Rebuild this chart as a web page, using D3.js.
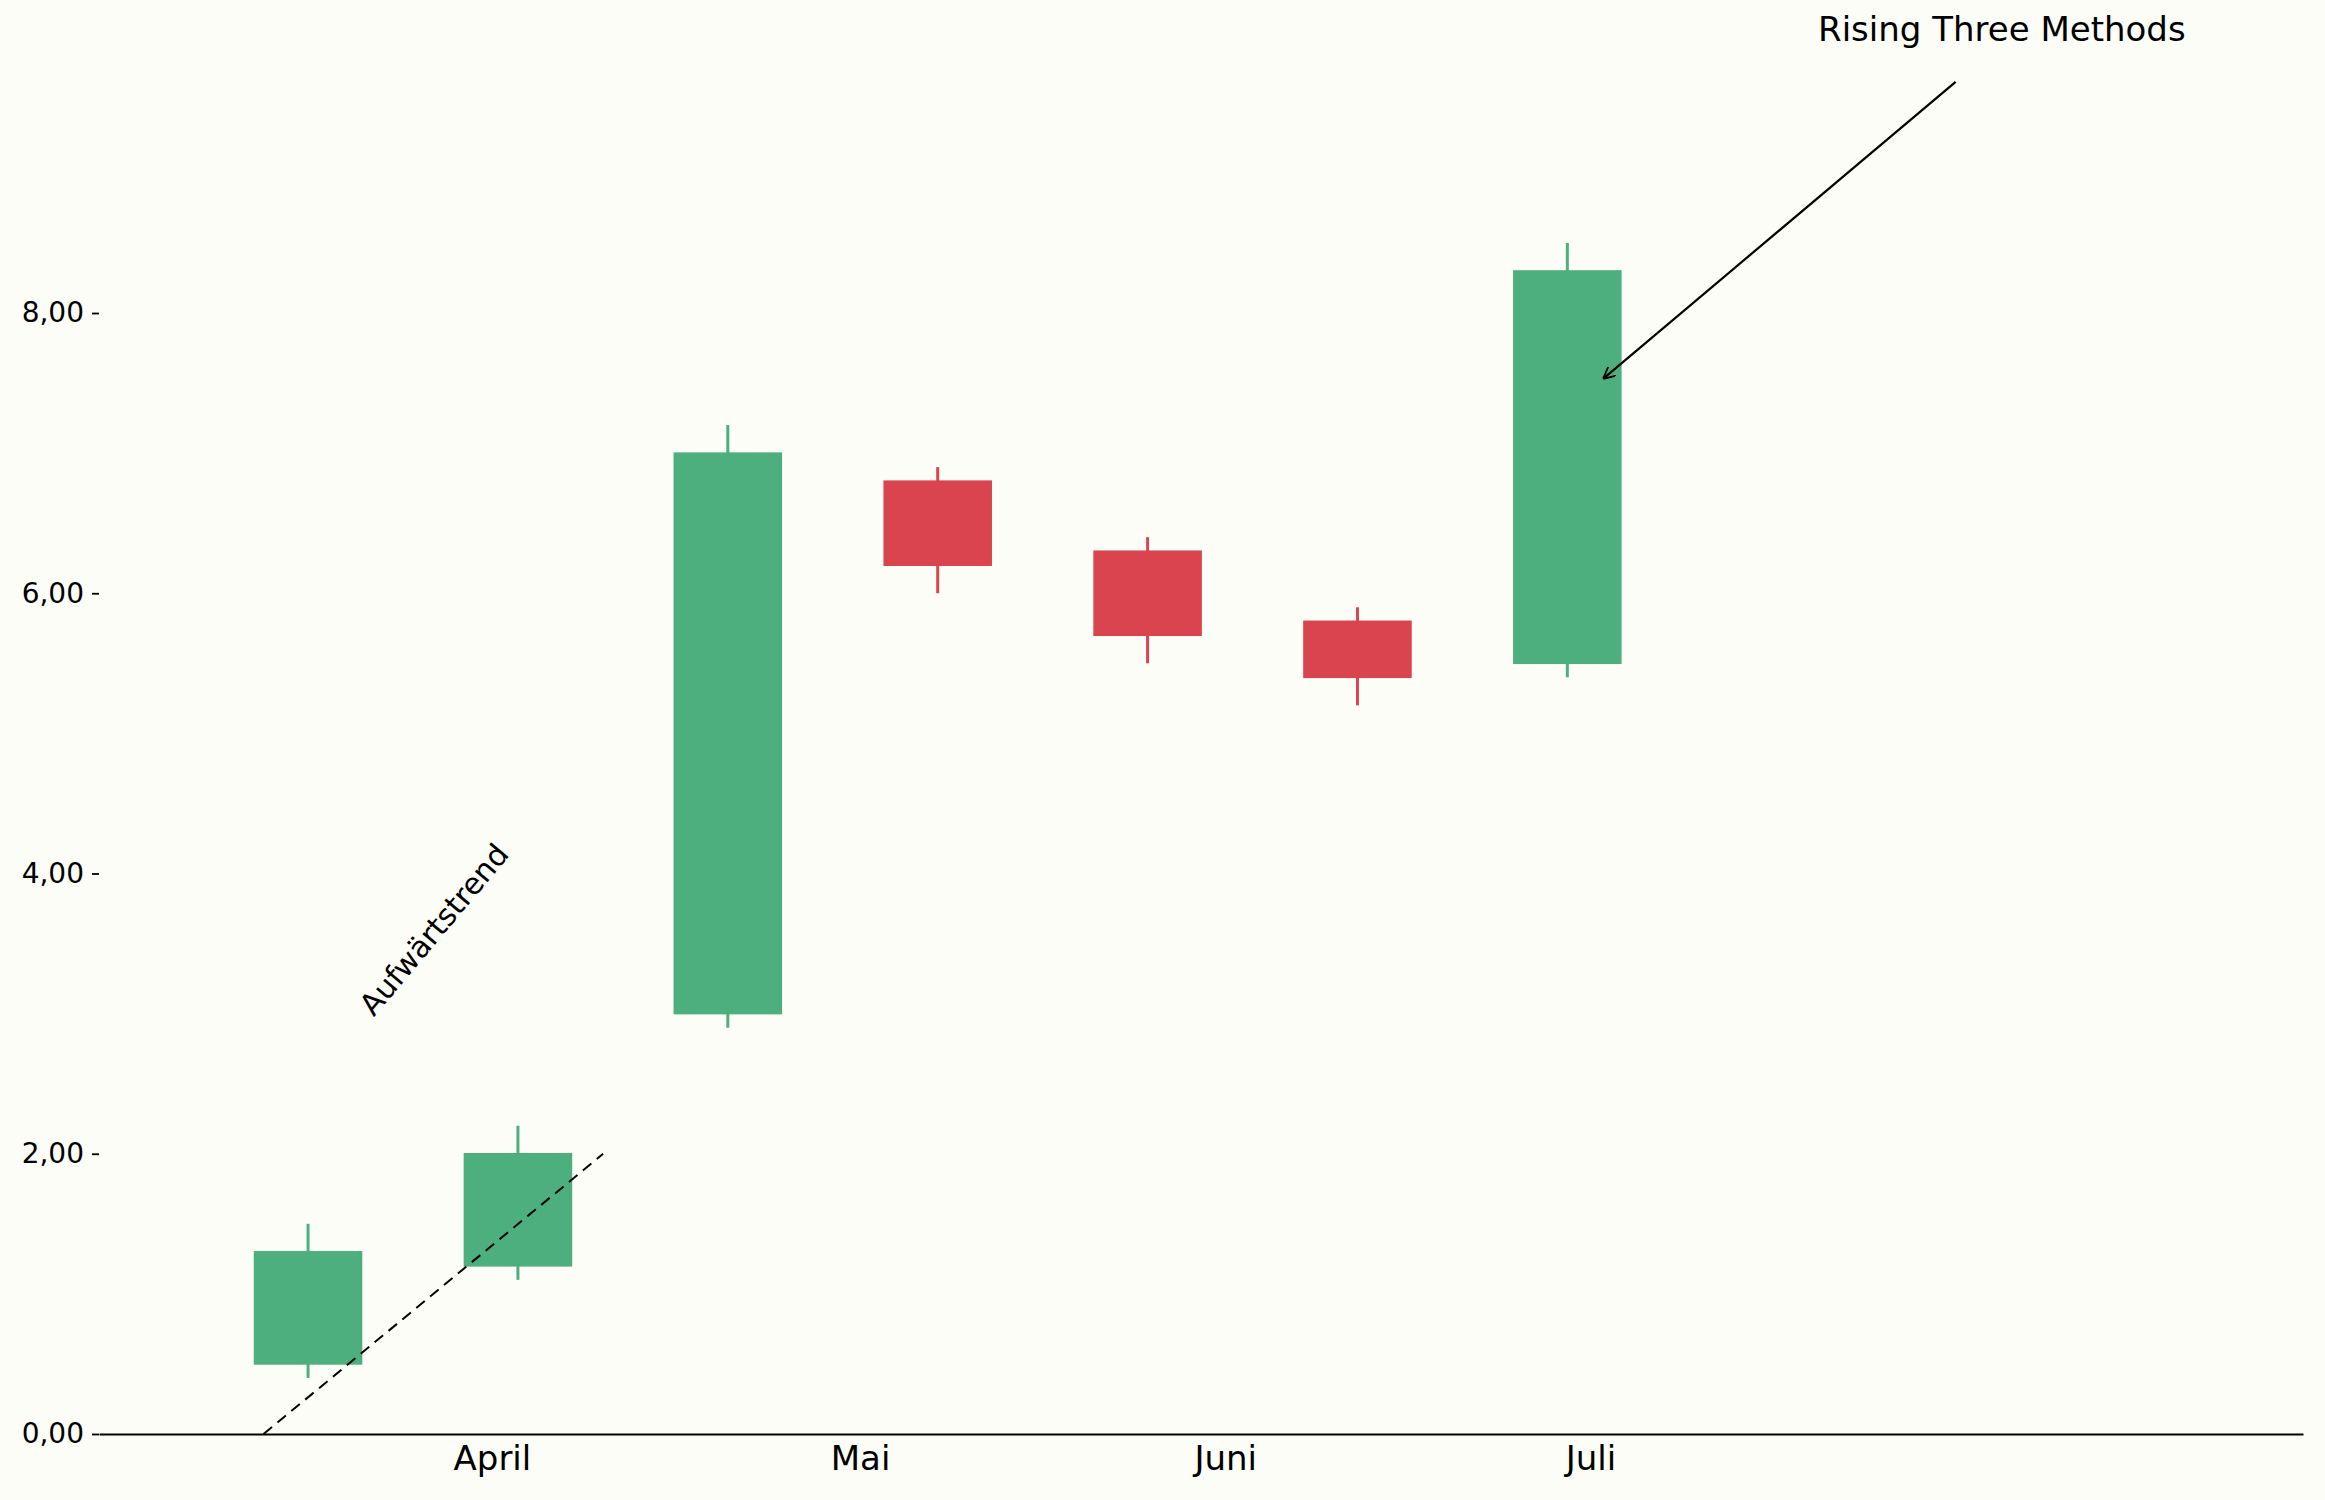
<!DOCTYPE html>
<html>
<head>
<script src="https://d3js.org/d3.v7.min.js"></script>
<style>
  body { margin: 0; background: #fdfdf8; }
  text { font-family: "DejaVu Sans", sans-serif; }
</style>
</head>
<body>
<svg width="2325" height="1500"></svg>
<script>
// candle data (index positions, OHLC)
var opens  = [0.5, 1.2, 3.0, 6.8, 6.3, 5.8, 5.5];
var closes = [1.3, 2.0, 7.0, 6.2, 5.7, 5.4, 8.3];
var highs  = [1.5, 2.2, 7.2, 6.9, 6.4, 5.9, 8.5];
var lows   = [0.4, 1.1, 2.9, 6.0, 5.5, 5.2, 5.4];
var monthLabels = ["April", "Mai", "Juni", "Juli"];
var monthPos = [0.876, 2.63, 4.37, 6.11];
var yTicks = [0, 2, 4, 6, 8];

var svg = d3.select("svg");
var x = d3.scaleLinear().domain([-0.996, 9.505]).range([99, 2303]);
var y = d3.scaleLinear().domain([0, 8]).range([1434, 313]);
var green = "#4caf7d", red = "#d9444f";
var bw = x(0.51) - x(0);

var candles = opens.map(function(o, i) {
  return { i: i, o: o, c: closes[i], h: highs[i], l: lows[i] };
});

// wicks
svg.selectAll(".wick").data(candles).enter().append("line")
  .attr("x1", function(d) { return x(d.i); })
  .attr("x2", function(d) { return x(d.i); })
  .attr("y1", function(d) { return y(d.h); })
  .attr("y2", function(d) { return y(d.l); })
  .attr("stroke", function(d) { return d.c >= d.o ? green : red; })
  .attr("stroke-width", 3);

// bodies
svg.selectAll(".body").data(candles).enter().append("rect")
  .attr("x", function(d) { return x(d.i) - bw / 2; })
  .attr("width", bw)
  .attr("y", function(d) { return y(Math.max(d.o, d.c)); })
  .attr("height", function(d) { return Math.abs(y(d.o) - y(d.c)); })
  .attr("fill", function(d) { return d.c >= d.o ? green : red; })
  .attr("stroke", function(d) { return d.c >= d.o ? green : red; })
  .attr("stroke-width", 1.5);

// trend line
svg.append("line")
  .attr("x1", x(-0.212)).attr("y1", y(0))
  .attr("x2", x(1.406)).attr("y2", y(2.0))
  .attr("stroke", "#000").attr("stroke-width", 2)
  .attr("stroke-dasharray", "11,7");

svg.append("text")
  .attr("transform", "translate(" + x(0.6) + "," + y(3.6) + ") rotate(-50)")
  .attr("text-anchor", "middle").attr("dy", "0.35em")
  .attr("font-size", 30).text("Aufwärtstrend");

// annotation
svg.append("defs").append("marker")
  .attr("id", "arr").attr("viewBox", "0 0 10 10").attr("refX", 10).attr("refY", 5)
  .attr("markerWidth", 12).attr("markerHeight", 12).attr("markerUnits", "userSpaceOnUse")
  .attr("orient", "auto")
  .append("path").attr("d", "M0,0 L10,5 L0,10").attr("fill", "none").attr("stroke", "#000").attr("stroke-width", 1.5);
svg.append("line")
  .attr("x1", x(7.85)).attr("y1", y(9.65))
  .attr("x2", x(6.17)).attr("y2", y(7.53))
  .attr("stroke", "#000").attr("stroke-width", 2.2)
  .attr("marker-end", "url(#arr)");
svg.append("text")
  .attr("x", x(8.07)).attr("y", y(9.94))
  .attr("text-anchor", "middle").attr("font-size", 34)
  .text("Rising Three Methods");

// axes
var xAxis = d3.axisBottom(x).tickValues(monthPos)
  .tickFormat(function(d, i) { return monthLabels[i]; }).tickSize(0).tickPadding(12);
var gx = svg.append("g").attr("transform", "translate(0," + y(0) + ")").call(xAxis);
gx.select(".domain").attr("stroke-width", 1.8);
gx.selectAll("text").attr("font-size", 34).attr("fill", "#000");

var yAxis = d3.axisLeft(y).tickValues(yTicks)
  .tickFormat(function(d) { return d.toFixed(2).replace(".", ","); }).tickSize(7).tickPadding(8);
var gy = svg.append("g").attr("transform", "translate(99,0)").call(yAxis);
gy.select(".domain").remove();
gy.selectAll("line").attr("stroke-width", 1.8);
gy.selectAll("text").attr("font-size", 28).attr("fill", "#000");
</script>
</body>
</html>
